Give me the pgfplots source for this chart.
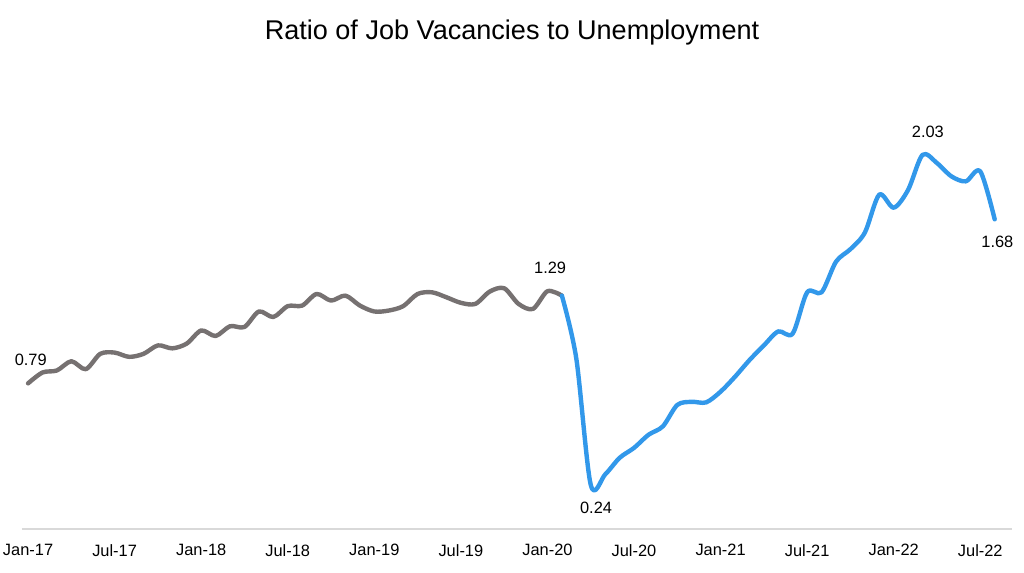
\documentclass[border=0pt]{standalone}
\usepackage{pgfplots}
\pgfplotsset{compat=1.18}
\usepackage{fontspec}
\setmainfont{Liberation Sans}
\definecolor{lgray}{RGB}{118,113,113}
\definecolor{lblue}{RGB}{50,152,234}
\definecolor{axgray}{RGB}{217,217,217}
\begin{document}
\begin{tikzpicture}
\path[use as bounding box] (0pt,0pt) rectangle (768pt,-429pt);
\node[font=\fontsize{20.3}{24}\selectfont] at (384pt,-24pt) {Ratio of Job Vacancies to Unemployment};
\begin{axis}[
  at={(16.5pt,-396.75pt)}, anchor=south west,
  scale only axis, width=742.5pt, height=318pt,
  xmin=-0.42, xmax=68.2, ymin=0, ymax=2.3,
  axis x line=bottom, axis y line=none,
  axis line style={axgray, line width=0.9pt, -},
  x axis line style={-},
  xtick={0,6,12,18,24,30,36,42,48,54,60,66},
  xticklabels={Jan-17,Jul-17,Jan-18,Jul-18,Jan-19,Jul-19,Jan-20,Jul-20,Jan-21,Jul-21,Jan-22,Jul-22},
  major tick length=0pt,
  xticklabel style={font=\fontsize{12.3}{14}\selectfont, yshift=-8pt},
  clip=false,
]
\addplot[lgray, line width=3.3pt, smooth, line join=round, line cap=round] coordinates {
(0,0.79)(1,0.849)(2,0.86)(3,0.91)(4,0.867)(5,0.95)(6,0.957)(7,0.934)(8,0.95)(9,0.996)
(10,0.98)(11,1.006)(12,1.077)(13,1.047)(14,1.10)(15,1.096)(16,1.18)(17,1.15)(18,1.209)(19,1.212)
(20,1.275)(21,1.239)(22,1.266)(23,1.212)(24,1.18)(25,1.185)(26,1.209)(27,1.275)(28,1.284)(29,1.257)
(30,1.227)(31,1.221)(32,1.288)(33,1.306)(34,1.221)(35,1.194)(36,1.29)(37,1.266)
};
\addplot[lblue, line width=3.3pt, smooth, line join=round, line cap=round] coordinates {
(37,1.266)(38,0.925)(39,0.24)(40,0.296)(41,0.386)(42,0.44)(43,0.511)(44,0.557)(45,0.673)(46,0.69)
(47,0.687)(48,0.745)(49,0.826)(50,0.916)(51,0.996)(52,1.072)(53,1.06)(54,1.284)(55,1.284)(56,1.45)
(57,1.518)(58,1.608)(59,1.814)(60,1.743)(61,1.84)(62,2.03)(63,1.985)(64,1.913)(65,1.886)(66,1.94)
(67,1.68)
};
\node[font=\fontsize{12.3}{14}\selectfont] at (axis cs:0,0.79) [xshift=2pt,yshift=17.5pt] {0.79};
\node[font=\fontsize{12.3}{14}\selectfont] at (axis cs:36,1.29) [xshift=2pt,yshift=17.5pt] {1.29};
\node[font=\fontsize{12.3}{14}\selectfont] at (axis cs:39,0.24) [xshift=4pt,yshift=-17pt] {0.24};
\node[font=\fontsize{12.3}{14}\selectfont] at (axis cs:62,2.03) [xshift=4pt,yshift=17.5pt] {2.03};
\node[font=\fontsize{12.3}{14}\selectfont] at (axis cs:67,1.68) [xshift=2pt,yshift=-17pt] {1.68};
\end{axis}
\end{tikzpicture}
\end{document}
